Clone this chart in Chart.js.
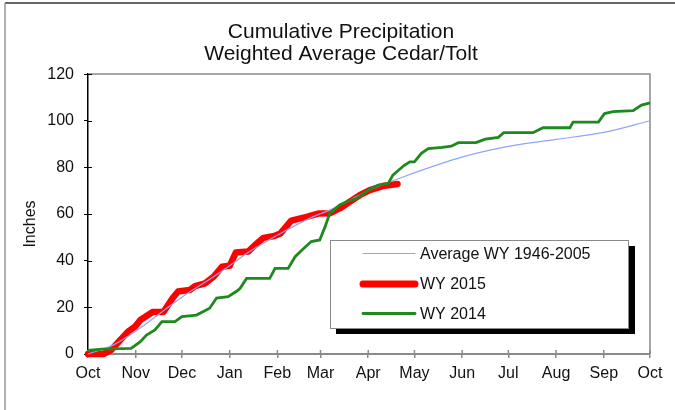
<!DOCTYPE html>
<html>
<head>
<meta charset="utf-8">
<script src="https://cdn.jsdelivr.net/npm/chart.js@4/dist/chart.umd.min.js"></script>
<style>
  html, body { margin: 0; padding: 0; background: #ffffff; }
  #wrap { width: 675px; height: 410px; position: relative; }
</style>
</head>
<body>
<div id="wrap"><canvas id="c" width="675" height="410"></canvas></div>
<script>
// ---- data (day of water year, inches) ----
const titleLines = ['Cumulative Precipitation', 'Weighted Average Cedar/Tolt'];
const yAxisLabel = 'Inches';
const monthTickDays = [0, 31, 61, 92, 123, 151, 182, 212, 243, 273, 304, 335, 365];
const monthTickLabels = ['Oct', 'Nov', 'Dec', 'Jan', 'Feb', 'Mar', 'Apr', 'May', 'Jun', 'Jul', 'Aug', 'Sep', 'Oct'];
const yTickValues = [0, 20, 40, 60, 80, 100, 120];

const avgLabel = 'Average WY 1946-2005';
const avgDays   = [0, 16.5, 38, 60, 81.5, 94, 103, 125, 146, 157, 182, 205, 244, 273, 304, 335, 365];
const avgValues = [0, 3.9, 13.1, 23.9, 33.1, 38.8, 43.1, 51.7, 58.8, 61.7, 70, 76, 84.6, 89, 92, 95, 100];

const wy2015Label = 'WY 2015';
const wy2015Days   = [0, 10, 15, 21, 26, 30.5, 34, 39, 42, 49, 55, 58.5, 66, 69.5, 76, 81.5, 87, 92, 96, 104, 108.5, 114, 121, 125, 132, 142, 149.5, 157, 163.5, 170, 176.5, 183, 191.5, 201];
const wy2015Values = [0, 0, 1.7, 6, 9.6, 11.7, 14.6, 16.7, 18, 18, 24, 26.8, 27.4, 29.1, 30.3, 33.1, 37.4, 37.8, 43.5, 43.9, 46.7, 49.8, 50.6, 51.7, 57.2, 58.8, 60.2, 60.3, 62.4, 65.3, 68.1, 70.3, 72, 72.9];

const wy2014Label = 'WY 2014';
const wy2014Days   = [0, 9, 28, 34, 38, 43.5, 48, 56.5, 61, 70.5, 79, 83.5, 91, 96.5, 98.7, 103, 118, 121.5, 130, 134.5, 139, 145, 150.5, 154, 157, 163.5, 168, 174.5, 182, 188.5, 195, 198, 205, 209, 212, 216.5, 221, 230, 236, 240.5, 252, 258, 266.5, 270, 289, 295.5, 313, 315, 331.5, 335.5, 341, 354, 359.5, 365];
const wy2014Values = [1.5, 2.1, 2.4, 5.3, 8.1, 10.3, 13.9, 13.9, 16, 16.7, 19.6, 24, 24.6, 26.9, 28.1, 32.4, 32.4, 36.7, 36.7, 41.7, 44.6, 48.2, 48.9, 54.6, 60.3, 63.9, 65.3, 66.7, 70.3, 72.4, 73.1, 76.7, 80.7, 82.4, 82.4, 86, 88.1, 88.6, 89.1, 90.6, 90.6, 92.1, 92.9, 94.9, 94.9, 97, 97, 99.4, 99.4, 103.1, 103.9, 104.3, 106.7, 107.7];

const toPoints = (xs, ys) => xs.map((x, i) => ({ x: x, y: ys[i] }));

const FONT = '"Liberation Sans", Arial, Helvetica, sans-serif';
const TEXT = '#111111';

// ---- decorations plugin ----
const decor = {
  id: 'decor',
  beforeDraw(chart) {
    const ctx = chart.ctx;
    ctx.save();
    ctx.fillStyle = '#ffffff';
    ctx.fillRect(0, 0, chart.width, chart.height);
    // outer frame (top + left)
    ctx.strokeStyle = '#333333';
    ctx.lineWidth = 1.5;
    ctx.beginPath(); ctx.moveTo(5, 3); ctx.lineTo(chart.width, 3); ctx.stroke();
    ctx.strokeStyle = '#999999';
    ctx.beginPath(); ctx.moveTo(5, 3); ctx.lineTo(5, chart.height); ctx.stroke();
    // y axis title
    ctx.fillStyle = TEXT;
    ctx.font = '16px ' + FONT;
    ctx.textAlign = 'center';
    ctx.textBaseline = 'middle';
    ctx.translate(31, 224);
    ctx.rotate(-Math.PI / 2);
    ctx.fillText(yAxisLabel, 0, 0);
    ctx.restore();
  },
  beforeDatasetsDraw(chart) {
    const ctx = chart.ctx, a = chart.chartArea;
    const xs = chart.scales.x, ys = chart.scales.y;
    ctx.save();
    // plot area top/right border
    ctx.strokeStyle = '#8a8a8a';
    ctx.lineWidth = 1.5;
    ctx.beginPath();
    ctx.moveTo(a.left, a.top); ctx.lineTo(a.right, a.top); ctx.lineTo(a.right, a.bottom);
    ctx.stroke();
    // inward tick halves
    ctx.strokeStyle = '#000000';
    ctx.lineWidth = 1;
    ys.ticks.forEach(t => {
      const y = Math.round(ys.getPixelForValue(t.value)) + 0.5;
      ctx.beginPath(); ctx.moveTo(a.left, y); ctx.lineTo(a.left + 4, y); ctx.stroke();
    });
    ctx.strokeStyle = '#8a8a8a';
    ctx.lineWidth = 1.5;
    xs.ticks.forEach(t => {
      const x = xs.getPixelForValue(t.value);
      ctx.beginPath(); ctx.moveTo(x, a.bottom); ctx.lineTo(x, a.bottom - 4); ctx.stroke();
    });
    ctx.restore();
  },
  afterDraw(chart) {
    // custom legend box with drop shadow
    const ctx = chart.ctx;
    const bx = 330, by = 240, bw = 298, bh = 88;
    ctx.save();
    ctx.fillStyle = '#000000';
    ctx.fillRect(bx + 6, by + 6, bw + 1, bh);
    ctx.fillStyle = '#ffffff';
    ctx.fillRect(bx, by, bw, bh);
    ctx.strokeStyle = '#8a8a8a';
    ctx.lineWidth = 1;
    ctx.strokeRect(bx + 0.5, by + 0.5, bw, bh);
    const rows = [253.5, 284, 313.5];
    const legendOrder = [0, 1, 2];
    legendOrder.forEach((di, i) => {
      const ds = chart.data.datasets[di];
      ctx.strokeStyle = ds.borderColor;
      ctx.lineWidth = ds.legendWidth || ds.borderWidth;
      ctx.lineCap = 'round';
      ctx.beginPath(); ctx.moveTo(363, rows[i]); ctx.lineTo(415, rows[i]); ctx.stroke();
      ctx.fillStyle = TEXT;
      ctx.font = '16px ' + FONT;
      ctx.textAlign = 'left';
      ctx.textBaseline = 'middle';
      ctx.fillText(ds.label, 420, rows[i] + 1);
    });
    ctx.restore();
  }
};

new Chart(document.getElementById('c'), {
  type: 'line',
  data: {
    datasets: [
      {
        label: avgLabel,
        data: toPoints(avgDays, avgValues),
        borderColor: '#8ea6f5',
        borderWidth: 1.2,
        pointRadius: 0,
        cubicInterpolationMode: 'monotone',
        order: 2,
        clip: 6
      },
      {
        label: wy2015Label,
        data: toPoints(wy2015Days, wy2015Values),
        borderColor: '#ff0000',
        borderWidth: 6.5,
        legendWidth: 7,
        pointRadius: 0,
        tension: 0,
        borderJoinStyle: 'round',
        borderCapStyle: 'round',
        order: 3,
        clip: 6
      },
      {
        label: wy2014Label,
        data: toPoints(wy2014Days, wy2014Values),
        borderColor: '#1d8a1d',
        borderWidth: 2.8,
        pointRadius: 0,
        tension: 0,
        order: 1,
        clip: 6
      }
    ]
  },
  options: {
    responsive: false,
    animation: false,
    events: [],
    layout: { padding: { left: 32, right: 25, top: 0, bottom: 0 } },
    plugins: {
      legend: { display: false },
      tooltip: { enabled: false },
      title: {
        display: true,
        text: titleLines,
        color: TEXT,
        font: { family: FONT, size: 21, weight: 'normal', lineHeight: 1.05 },
        padding: { top: 21, bottom: 9 }
      }
    },
    scales: {
      x: {
        type: 'linear',
        min: 0,
        max: 365,
        afterBuildTicks: (s) => { s.ticks = monthTickDays.map(v => ({ value: v })); },
        afterFit: (s) => { s.height = 56; },
        ticks: {
          autoSkip: false,
          maxRotation: 0,
          padding: 6,
          color: TEXT,
          font: { family: FONT, size: 16 },
          callback: (v, i) => monthTickLabels[i]
        },
        grid: { drawOnChartArea: false, drawTicks: true, tickLength: 4, color: '#8a8a8a', lineWidth: 1.5 },
        border: { display: true, color: '#8a8a8a', width: 2 }
      },
      y: {
        min: 0,
        max: 120,
        afterBuildTicks: (s) => { s.ticks = yTickValues.map(v => ({ value: v })); },
        afterFit: (s) => { s.width = 56; },
        ticks: {
          padding: 10,
          color: TEXT,
          font: { family: FONT, size: 16 }
        },
        grid: { drawOnChartArea: false, drawTicks: true, tickLength: 4, color: '#000000', lineWidth: 1 },
        border: { display: true, color: '#000000', width: 1.5 }
      }
    }
  },
  plugins: [decor]
});
</script>
</body>
</html>
